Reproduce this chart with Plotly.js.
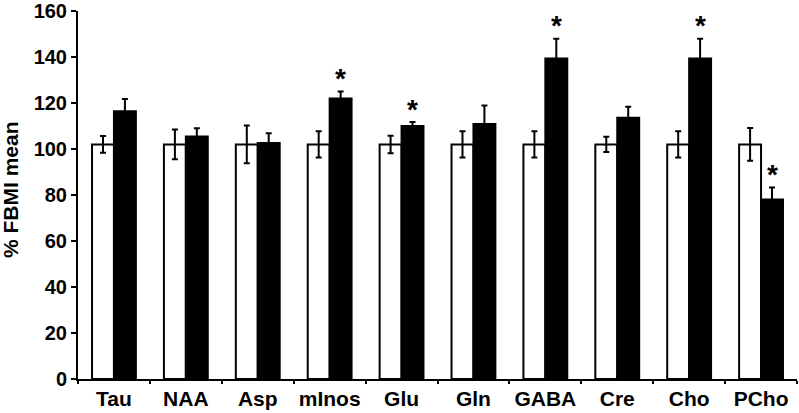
<!DOCTYPE html>
<html>
<head>
<meta charset="utf-8">
<script src="https://cdn.plot.ly/plotly-3.0.1.min.js"></script>
<style>
  html, body { margin: 0; padding: 0; background: #fff; }
  #chart { width: 799px; height: 413px; }
</style>
</head>
<body>
<div id="chart"></div>
<script>
// metabolites on the x axis
const metabolites = ['Tau', 'NAA', 'Asp', 'mInos', 'Glu', 'Gln', 'GABA', 'Cre', 'Cho', 'PCho'];

// control group (white bars) and treated group (black bars), % of FBMI mean
const controlMean = [102, 102, 102, 102, 102, 102, 102, 102, 102, 102];
const controlErr  = [3.6, 6.5, 8.2, 5.7, 3.8, 5.7, 5.7, 3.3, 5.7, 7.1];
const treatedMean = [116.4, 105.4, 102.6, 122, 110, 110.9, 139.3, 113.6, 139.3, 78];
const treatedErr  = [5.3, 3.6, 4.2, 3.0, 1.7, 8, 8.6, 4.8, 8.6, 5.3];

// significance markers on the treated bars
const significant = [false, false, false, true, true, false, true, false, true, true];

const yTicks = [0, 20, 40, 60, 80, 100, 120, 140, 160];
const yTitle = '% FBMI mean';

const fontFamily = 'Liberation Sans, Arial, sans-serif';

const traces = [
  {
    type: 'bar',
    x: metabolites,
    y: controlMean,
    marker: { color: '#ffffff', line: { color: '#000000', width: 2 } },
    error_y: { type: 'data', array: controlErr, visible: true, color: '#000000', thickness: 2, width: 3 },
    name: 'Control'
  },
  {
    type: 'bar',
    x: metabolites,
    y: treatedMean,
    marker: { color: '#000000', line: { color: '#000000', width: 2 } },
    error_y: { type: 'data', array: treatedErr, visible: true, color: '#000000', thickness: 2, width: 3 },
    name: 'Treated'
  }
];

// stars sit just above the error bar of each significant black bar
const annotations = [];
metabolites.forEach((m, i) => {
  if (!significant[i]) return;
  annotations.push({
    x: m,
    y: treatedMean[i] + treatedErr[i],
    xref: 'x',
    yref: 'y',
    text: '*',
    showarrow: false,
    xshift: 11,
    yshift: 13,
    yanchor: 'middle',
    font: { family: fontFamily, size: 28, color: '#000000', weight: 'bold' }
  });
});

// y axis title placed by hand, closer to the edge than plotly's default
annotations.push({
  xref: 'paper',
  yref: 'paper',
  x: -0.093,
  y: 0.514,
  xanchor: 'center',
  yanchor: 'middle',
  textangle: -90,
  text: yTitle,
  showarrow: false,
  font: { family: fontFamily, size: 21, color: '#000000', weight: 'bold' }
});

const layout = {
  width: 799,
  height: 413,
  margin: { l: 78, r: 2, t: 11, b: 34 },
  paper_bgcolor: '#ffffff',
  plot_bgcolor: '#ffffff',
  showlegend: false,
  barmode: 'group',
  bargap: 0.39,
  bargroupgap: 0,
  font: { family: fontFamily, color: '#000000' },
  xaxis: {
    type: 'category',
    showline: true,
    linecolor: '#000000',
    linewidth: 2,
    ticks: 'outside',
    tickson: 'boundaries',
    ticklen: 3,
    tickwidth: 2,
    tickcolor: '#000000',
    showgrid: false,
    zeroline: false,
    tickfont: { family: fontFamily, size: 21, color: '#000000', weight: 'bold' }
  },
  yaxis: {
    range: [0, 160],
    tickvals: yTicks,
    ticktext: yTicks.map(String),
    showline: true,
    linecolor: '#000000',
    linewidth: 2,
    ticks: 'outside',
    ticklen: 5,
    tickwidth: 2,
    tickcolor: '#000000',
    showgrid: false,
    zeroline: false,
    tickfont: { family: fontFamily, size: 20, color: '#000000', weight: 'bold' }
  },
  annotations: annotations
};

Plotly.newPlot('chart', traces, layout, { displayModeBar: false, staticPlot: true });
</script>
</body>
</html>
